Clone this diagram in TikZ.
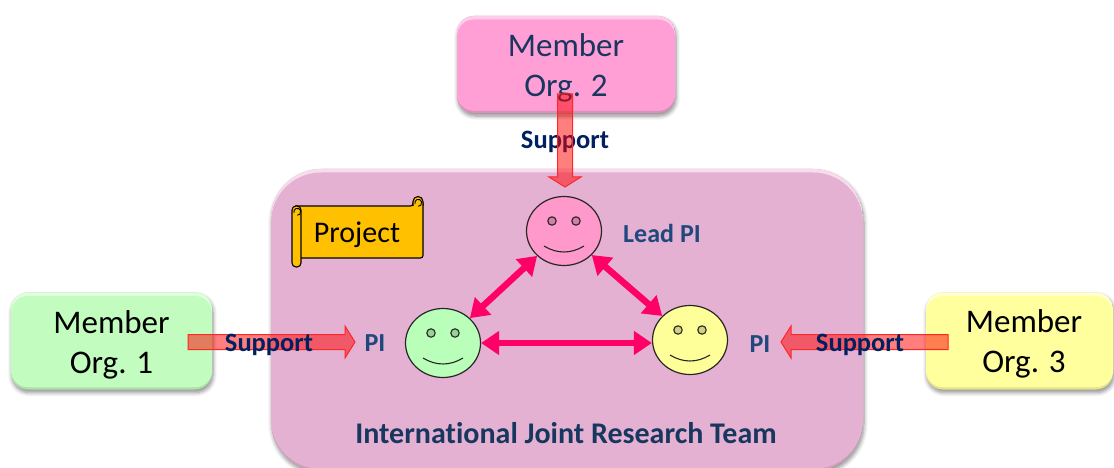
\documentclass[tikz,border=0pt]{standalone}
\usepackage{fontspec}
\setmainfont[Ligatures=NoCommon]{Carlito}
\usetikzlibrary{calc,shadows,shadows.blur,arrows.meta,shapes.geometric}
\definecolor{teamfill}{HTML}{E4B1D2}
\definecolor{teamhi}{HTML}{F6DCEC}
\definecolor{teamlo}{HTML}{D49FC1}
\definecolor{pinkfill}{HTML}{FF9FD6}
\definecolor{pinkhi}{HTML}{FFCDEA}
\definecolor{pinklo}{HTML}{E08DBC}
\definecolor{greenfill}{HTML}{C2FCBE}
\definecolor{greenhi}{HTML}{E0FFDD}
\definecolor{greenlo}{HTML}{ADE0AA}
\definecolor{yellowfill}{HTML}{FFFF9E}
\definecolor{yellowhi}{HTML}{FFFFD0}
\definecolor{yellowlo}{HTML}{E4E48D}
\definecolor{navy}{HTML}{002060}
\definecolor{slate}{HTML}{1F497D}
\definecolor{darkslate}{HTML}{17375E}
\definecolor{linkpink}{HTML}{FF0066}
\definecolor{scrollfill}{HTML}{FFC000}
\definecolor{leadface}{HTML}{FF99CC}
\definecolor{greenface}{HTML}{B9FFB9}
\definecolor{yellowface}{HTML}{FFFF99}
\definecolor{leadeye}{HTML}{D27FA8}
\definecolor{greeneye}{HTML}{98D298}
\definecolor{yelloweye}{HTML}{D2D27E}
\newcommand{\orgstrut}{\rule{0pt}{30pt}}
\tikzset{
  bevelbox/.style n args={4}{rounded corners=#4, fill=#3, inner sep=0pt, align=center,
    blur shadow={shadow xshift=1pt,shadow yshift=-3pt,shadow opacity=45,shadow blur radius=4pt,shadow blur steps=6},
    path picture={
      \fill[#2,rounded corners=#4] (path picture bounding box.north west) rectangle
        ([yshift=2.5pt]path picture bounding box.south east);
      \fill[#1,rounded corners=#4] ([yshift=-3.5pt]path picture bounding box.north west) rectangle
        ([yshift=2.5pt]path picture bounding box.south east);
    }},
  orgtext/.style={font=\fontsize{33}{40}\selectfont},
  supportlabel/.style={font=\fontsize{26.5}{30}\selectfont\bfseries, text=navy, inner sep=0pt},
  pilabel/.style={font=\fontsize{26}{30}\selectfont\bfseries, text=slate, inner sep=0pt},
  supportarrow/.style={draw=red!85!white, line width=1pt, fill=red, fill opacity=.5, line join=miter},
  link/.style={draw=linkpink, line width=6.5pt,
    {Triangle[length=18pt,width=23pt]}-{Triangle[length=18pt,width=23pt]}},
  facebody/.style={draw=black!85, line width=1.2pt, ellipse, minimum width=75pt, minimum height=69pt, inner sep=0pt},
  faceline/.style={draw=black!85, line width=1.1pt},
  scrollline/.style={draw=black, line width=1.1pt, fill=scrollfill, line join=round},
}
% block arrow from coordinate #1 to coordinate #2
\newcommand{\blockarrow}[2]{%
  \coordinate (m) at ($(#2)!10pt!(#1)$);
  \draw[supportarrow]
    ($(#1)!7.5pt!90:(#2)$) -- ($(m)!7.5pt!-90:(#1)$) -- ($(m)!16pt!-90:(#1)$) -- (#2)
    -- ($(m)!16pt!90:(#1)$) -- ($(m)!7.5pt!90:(#1)$) -- ($(#1)!7.5pt!-90:(#2)$) -- cycle;
}
% smiling face: name, x, y, colour, eye colour
\newcommand{\smiley}[5]{%
  \node[facebody, fill=#4] (#1) at (#2,#3) {};
  \draw[faceline, fill=#5] ($(#1)+(-12,-10)$) circle (4.2pt);
  \draw[faceline, fill=#5] ($(#1)+(12,-10)$) circle (4.2pt);
  \draw[faceline] ($(#1)+(-20,15)$) .. controls ($(#1)+(-7,23)$) and ($(#1)+(7,23)$) .. ($(#1)+(20,15)$);
}
\begin{document}
\begin{tikzpicture}[x=1pt,y=-1pt]
\useasboundingbox (0,0) rectangle (1114,468);
\clip (0,0) rectangle (1114,468);
% team panel
\node[bevelbox={teamfill}{teamhi}{teamlo}{50pt}, minimum width=592pt, minimum height=302pt] (team) at (567,320) {};
\node[font=\fontsize{30}{34}\selectfont\bfseries, text=darkslate, inner sep=0pt] (teamlabel) at (566,433) {International Joint Research Team};
% member organisations
\node[bevelbox={pinkfill}{pinkhi}{pinklo}{17pt}, orgtext, text=darkslate, minimum width=218pt, minimum height=97pt] (org2) at (566,64.5) {\orgstrut Member\\Org. 2};
\node[bevelbox={greenfill}{greenhi}{greenlo}{17pt}, orgtext, text=black, minimum width=201pt, minimum height=97pt] (org1) at (111.5,341) {\orgstrut Member\\Org. 1};
\node[bevelbox={yellowfill}{yellowhi}{yellowlo}{17pt}, minimum width=187pt, minimum height=97pt] (org3) at (1019.5,341) {};
\node[orgtext, text=black, align=center, inner sep=0pt] (org3text) at (1024,344) {Member\\Org. 3};
% scroll
\draw[scrollline, rounded corners=2.5pt] (296,206) -- (413,206) -- (413,201) -- (423,201) -- (423,258) -- (298,258) -- (298,206) -- cycle;
\draw[scrollline, rounded corners=4pt] (292,206) -- (301,206) -- (301,267) -- (292,267) -- cycle;
\draw[scrollline] (413,206) -- (413,201.5) arc[start angle=180,end angle=0,radius=5pt] -- (423,206);
\draw[draw=black, line width=.9pt] (294,213) arc[start angle=200,end angle=-90,radius=3.5pt];
\draw[draw=black, line width=.9pt] (415,204) arc[start angle=200,end angle=-90,radius=3.5pt];
\node[font=\fontsize{30}{34}\selectfont, text=black, inner sep=0pt] (projectlabel) at (357,235) {Project};
% faces
\smiley{lead}{564}{231}{leadface}{leadeye}
\smiley{green}{443}{343}{greenface}{greeneye}
\smiley{yellow}{690}{340}{yellowface}{yelloweye}
% links
\draw[link] (lead) -- (green);
\draw[link] (lead) -- (yellow);
\draw[link] (green.east) -- (green.east -| yellow.west);
% labels
\node[pilabel] (leadpi) at (662,233) {Lead PI};
\node[pilabel] (pi1) at (375,343) {PI};
\node[pilabel] (pi3) at (760,344) {PI};
% support arrows
\node[supportlabel] (s2label) at (565,142) {Support};
\coordinate (s2a) at (565,94);
\coordinate (s2b) at (565,187);
\blockarrow{s2a}{s2b}
\coordinate (s1a) at (188,342);
\coordinate (s1b) at (355,342);
\blockarrow{s1a}{s1b}
\node[supportlabel] (s1label) at (269,345) {Support};
\coordinate (s3a) at (948,342);
\coordinate (s3b) at (781,342);
\blockarrow{s3a}{s3b}
\node[supportlabel] (s3label) at (860,345) {Support};
\end{tikzpicture}
\end{document}
